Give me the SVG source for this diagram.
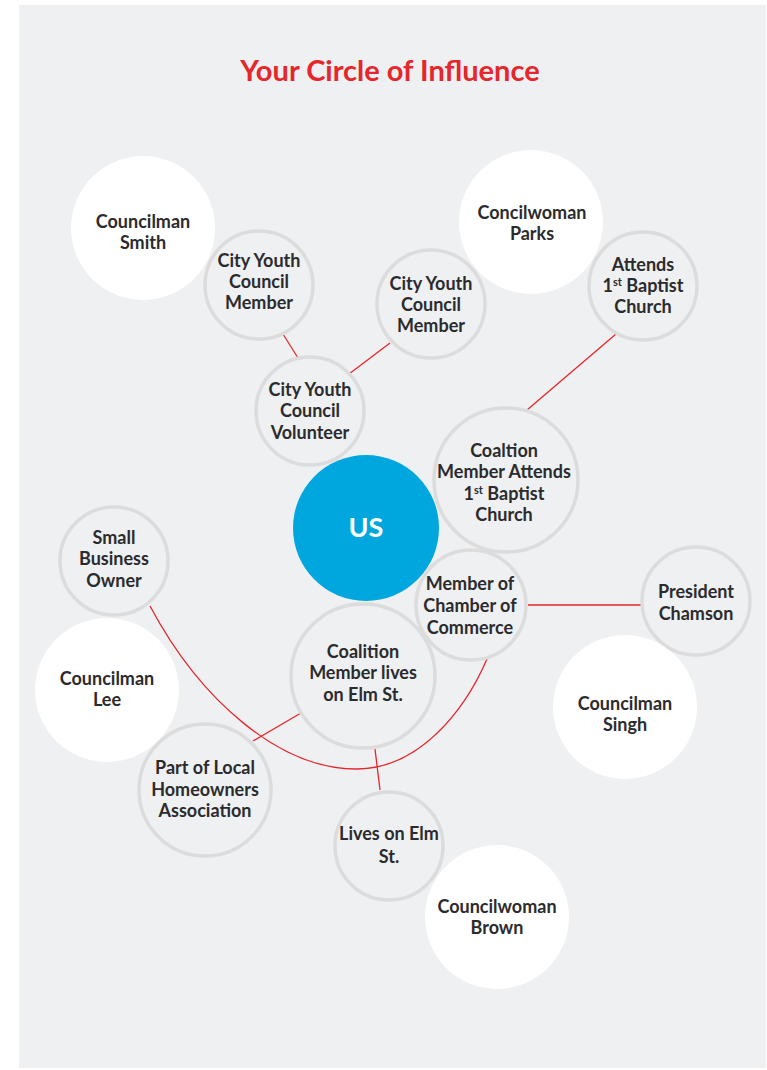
<svg xmlns="http://www.w3.org/2000/svg" width="767" height="1070" viewBox="0 0 767 1070">
  <style>
    .panel { fill: #eff0f2; }
    .ring { fill: #eff0f2; stroke: #dcdcdd; stroke-width: 3.5; }
    .solid { fill: #ffffff; }
    .core { fill: #00a7df; }
    .lbl { font-family: Lato, "Open Sans", "Liberation Sans", sans-serif; font-weight: 700; font-size: 18px; fill: #2b2b2d; text-anchor: middle; }
    .core-lbl { font-family: Lato, "Open Sans", "Liberation Sans", sans-serif; font-weight: 700; font-size: 27px; fill: #ffffff; text-anchor: middle; }
    .title { font-family: Lato, "Open Sans", "Liberation Sans", sans-serif; font-weight: 700; font-size: 29px; fill: #e5262b; text-anchor: middle; }
    .sup { font-size: 11px; }
    .link { fill: none; stroke: #e5262b; stroke-width: 1.3; }
  </style>

  <rect class="panel" x="19" y="5" width="747" height="1063"/>

  <text class="title" x="390" y="81">Your Circle of Influence</text>

  <!-- connectors -->
  <g id="connectors">
    <line class="link" x1="283" y1="334" x2="298" y2="358"/>
    <line class="link" x1="390" y1="343" x2="349" y2="374"/>
    <line class="link" x1="616" y1="334" x2="527" y2="410"/>
    <line class="link" x1="528" y1="605" x2="641" y2="605"/>
    <line class="link" x1="301" y1="713" x2="253" y2="741"/>
    <line class="link" x1="375" y1="749" x2="380" y2="790"/>
    <path class="link" d="M150,606 C200,700 280,770 358,769 C420,768 465,710 487,659"/>
  </g>

  <!-- nodes -->
  <g id="councilman-smith">
    <circle class="solid" cx="143" cy="228" r="72"/>
    <text class="lbl"><tspan x="143" y="228">Councilman</tspan><tspan x="143" y="249">Smith</tspan></text>
  </g>
  <g id="concilwoman-parks">
    <circle class="solid" cx="531" cy="222" r="72"/>
    <text class="lbl"><tspan x="532" y="219">Concilwoman</tspan><tspan x="532" y="240">Parks</tspan></text>
  </g>
  <g id="cyc-member-1">
    <circle class="ring" cx="259" cy="285" r="54"/>
    <text class="lbl"><tspan x="259" y="267">City Youth</tspan><tspan x="259" y="288">Council</tspan><tspan x="259" y="309">Member</tspan></text>
  </g>
  <g id="cyc-member-2">
    <circle class="ring" cx="431" cy="304" r="54"/>
    <text class="lbl"><tspan x="431" y="290">City Youth</tspan><tspan x="431" y="311">Council</tspan><tspan x="431" y="332">Member</tspan></text>
  </g>
  <g id="cyc-volunteer">
    <circle class="ring" cx="310" cy="411" r="54"/>
    <text class="lbl"><tspan x="310" y="396">City Youth</tspan><tspan x="310" y="417">Council</tspan><tspan x="310" y="439">Volunteer</tspan></text>
  </g>
  <g id="attends-baptist">
    <circle class="ring" cx="643" cy="286" r="54"/>
    <text class="lbl"><tspan x="643" y="271">Attends</tspan><tspan x="643" y="292">1<tspan class="sup" dy="-6">st</tspan><tspan dy="6"> Baptist</tspan></tspan><tspan x="643" y="313">Church</tspan></text>
  </g>
  <g id="coalition-baptist">
    <circle class="ring" cx="506" cy="480" r="72"/>
    <text class="lbl"><tspan x="504" y="457">Coaltion</tspan><tspan x="504" y="478">Member Attends</tspan><tspan x="504" y="500">1<tspan class="sup" dy="-6">st</tspan><tspan dy="6"> Baptist</tspan></tspan><tspan x="504" y="521">Church</tspan></text>
  </g>
  <g id="us">
    <circle class="core" cx="366" cy="528" r="73"/>
    <text class="core-lbl" x="366" y="537">US</text>
  </g>
  <g id="chamber">
    <circle class="ring" cx="471" cy="605" r="55"/>
    <text class="lbl"><tspan x="470" y="590">Member of</tspan><tspan x="470" y="612">Chamber of</tspan><tspan x="470" y="634">Commerce</tspan></text>
  </g>
  <g id="president-chamson">
    <circle class="ring" cx="696" cy="601" r="54"/>
    <text class="lbl"><tspan x="696" y="598">President</tspan><tspan x="696" y="620">Chamson</tspan></text>
  </g>
  <g id="small-business">
    <circle class="ring" cx="114" cy="561" r="54"/>
    <text class="lbl"><tspan x="114" y="544">Small</tspan><tspan x="114" y="565">Business</tspan><tspan x="114" y="587">Owner</tspan></text>
  </g>
  <g id="councilman-lee">
    <circle class="solid" cx="107" cy="690" r="72"/>
    <text class="lbl"><tspan x="107" y="685">Councilman</tspan><tspan x="107" y="706">Lee</tspan></text>
  </g>
  <g id="coalition-elm">
    <circle class="ring" cx="363" cy="676" r="72"/>
    <text class="lbl"><tspan x="363" y="658">Coalition</tspan><tspan x="363" y="679">Member lives</tspan><tspan x="363" y="701">on Elm St.</tspan></text>
  </g>
  <g id="councilman-singh">
    <circle class="solid" cx="625" cy="707" r="72"/>
    <text class="lbl"><tspan x="625" y="710">Councilman</tspan><tspan x="625" y="731">Singh</tspan></text>
  </g>
  <g id="homeowners">
    <circle class="ring" cx="205" cy="790" r="66"/>
    <text class="lbl"><tspan x="205" y="774">Part of Local</tspan><tspan x="205" y="796">Homeowners</tspan><tspan x="205" y="817">Association</tspan></text>
  </g>
  <g id="lives-elm">
    <circle class="ring" cx="389" cy="846" r="54"/>
    <text class="lbl"><tspan x="389" y="840">Lives on Elm</tspan><tspan x="389" y="863">St.</tspan></text>
  </g>
  <g id="councilwoman-brown">
    <circle class="solid" cx="497" cy="917" r="72"/>
    <text class="lbl"><tspan x="497" y="913">Councilwoman</tspan><tspan x="497" y="934">Brown</tspan></text>
  </g>
</svg>
